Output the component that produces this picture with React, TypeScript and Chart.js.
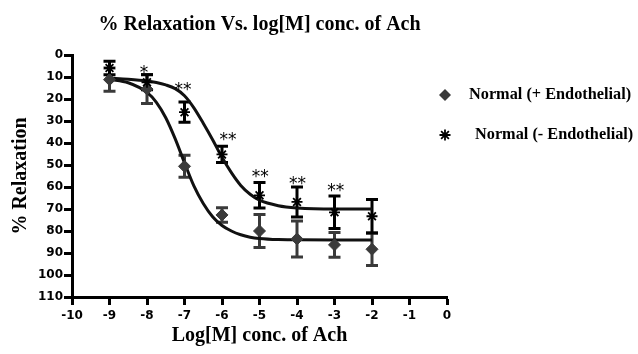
import React, { useEffect, useRef } from "react";
import { Chart, registerables } from "chart.js";

Chart.register(...registerables);

// ---- data ----
const doseLog = [-9, -8, -7, -6, -5, -4, -3, -2];
const plusMean = [11.2, 15.5, 50.6, 72.7, 80.0, 83.6, 86.3, 88.3];
const plusErr = [5.3, 6.6, 5.0, 3.3, 7.5, 8.2, 5.6, 7.4];
const minusMean = [5.9, 12.4, 26.0, 45.2, 63.8, 66.8, 71.5, 73.3];
const minusErr = [3.1, 3.4, 4.6, 3.7, 5.8, 6.8, 7.4, 7.6];

const fitX = [-9, -8.5, -8, -7.75, -7.5, -7.25, -7, -6.75, -6.5, -6.25, -6, -5.75, -5.5, -5.25, -5, -4.5, -4, -3, -2];
const plusFit = [11.0, 12.6, 17.0, 21.5, 28.5, 38.0, 49.0, 59.5, 67.5, 73.5, 77.5, 80.0, 81.7, 82.8, 83.4, 83.9, 84.0, 84.1, 84.1];
const minusFit = [10.5, 11.0, 11.8, 12.5, 13.6, 15.3, 18.5, 24.0, 31.0, 38.5, 46.5, 53.5, 59.3, 63.3, 66.0, 68.5, 69.5, 70.0, 70.0];

const sigLabels = ["*", "**", "**", "**", "**", "**"];
const sigX = [-8.08, -7.04, -5.84, -4.98, -3.99, -2.97];
const sigY = [5.9, 13.9, 36.7, 53.5, 56.7, 59.7];

const seriesNames = ["Normal (+ Endothelial)", "Normal (- Endothelial)"];
const titleText = "% Relaxation Vs. log[M] conc. of Ach";
const xTitle = "Log[M] conc. of Ach";
const yTitle = "% Relaxation";

const GRAY = "#3a3a3a";
const BLACK = "#000000";
const SERIF = "'Liberation Serif', 'Times New Roman', serif";
const SANS = "'DejaVu Sans', sans-serif";

const extrasPlugin = {
  id: "extras",
  beforeDatasetsDraw(chart: any) {
    const { ctx, scales } = chart;
    const xs = scales.x;
    const ys = scales.y;
    const drawBars = (means: number[], errs: number[], color: string) => {
      ctx.save();
      ctx.strokeStyle = color;
      ctx.lineWidth = 3;
      ctx.lineCap = "butt";
      for (let i = 0; i < doseLog.length; i++) {
        const px = xs.getPixelForValue(doseLog[i]);
        const top = ys.getPixelForValue(means[i] - errs[i]);
        const bot = ys.getPixelForValue(means[i] + errs[i]);
        ctx.beginPath();
        ctx.moveTo(px, top);
        ctx.lineTo(px, bot);
        ctx.moveTo(px - 6, top);
        ctx.lineTo(px + 6, top);
        ctx.moveTo(px - 6, bot);
        ctx.lineTo(px + 6, bot);
        ctx.stroke();
      }
      ctx.restore();
    };
    drawBars(plusMean, plusErr, GRAY);
    drawBars(minusMean, minusErr, BLACK);
  },
  afterDraw(chart: any) {
    const { ctx, scales } = chart;
    const xs = scales.x;
    const ys = scales.y;
    ctx.save();
    // significance marks
    const starSize = 17;
    ctx.font = `${starSize}px ${SANS}`;
    ctx.fillStyle = BLACK;
    ctx.textAlign = "center";
    ctx.textBaseline = "alphabetic";
    for (let i = 0; i < sigLabels.length; i++) {
      const px = xs.getPixelForValue(sigX[i]);
      const py = ys.getPixelForValue(sigY[i]);
      ctx.fillText(sigLabels[i], px, py + 0.56 * starSize);
    }
    // legend
    ctx.font = `bold 16.3px ${SERIF}`;
    ctx.textAlign = "left";
    ctx.textBaseline = "middle";
    const lx = 445;
    const ly = [95, 135];
    const tx = [469, 475];
    // diamond
    ctx.fillStyle = GRAY;
    ctx.beginPath();
    ctx.moveTo(lx, ly[0] - 6);
    ctx.lineTo(lx + 6, ly[0]);
    ctx.lineTo(lx, ly[0] + 6);
    ctx.lineTo(lx - 6, ly[0]);
    ctx.closePath();
    ctx.fill();
    // asterisk
    ctx.strokeStyle = BLACK;
    ctx.lineWidth = 1.8;
    ctx.beginPath();
    const r = 5.5;
    for (let k = 0; k < 4; k++) {
      const a = (k * Math.PI) / 4;
      ctx.moveTo(lx - r * Math.cos(a), ly[1] - r * Math.sin(a));
      ctx.lineTo(lx + r * Math.cos(a), ly[1] + r * Math.sin(a));
    }
    ctx.stroke();
    ctx.fillStyle = BLACK;
    ctx.fillText(seriesNames[0], tx[0], ly[0]);
    ctx.fillText(seriesNames[1], tx[1], ly[1]);
    ctx.restore();
  },
};

export default function App() {
  const ref = useRef<HTMLCanvasElement | null>(null);

  useEffect(() => {
    if (!ref.current) return;
    const tickFont = { family: SANS, size: 12, weight: "bold" as const };
    const axisTitleFont = { family: SERIF, size: 20, weight: "bold" as const };
    const chart = new Chart(ref.current, {
      type: "scatter",
      data: {
        datasets: [
          {
            label: seriesNames[0],
            data: doseLog.map((x, i) => ({ x, y: plusMean[i] })),
            pointStyle: "rectRot",
            pointRadius: 6,
            backgroundColor: GRAY,
            borderColor: GRAY,
            borderWidth: 1,
            showLine: false,
            order: 1,
          },
          {
            label: seriesNames[1],
            data: doseLog.map((x, i) => ({ x, y: minusMean[i] })),
            pointStyle: "star",
            pointRadius: 5.5,
            borderColor: BLACK,
            backgroundColor: BLACK,
            borderWidth: 1.8,
            showLine: false,
            order: 0,
          },
          {
            label: "fit +",
            data: fitX.map((x, i) => ({ x, y: plusFit[i] })),
            showLine: true,
            pointRadius: 0,
            borderColor: "#111",
            borderWidth: 3,
            cubicInterpolationMode: "monotone",
            order: 2,
          },
          {
            label: "fit -",
            data: fitX.map((x, i) => ({ x, y: minusFit[i] })),
            showLine: true,
            pointRadius: 0,
            borderColor: "#111",
            borderWidth: 3,
            cubicInterpolationMode: "monotone",
            order: 2,
          },
        ],
      },
      options: {
        animation: false,
        responsive: false,
        devicePixelRatio: 1,
        layout: { padding: { top: 0, left: 0, right: 191, bottom: 0 } },
        plugins: {
          legend: { display: false },
          tooltip: { enabled: false },
          title: {
            display: true,
            text: titleText,
            fullSize: false,
            color: BLACK,
            font: { family: SERIF, size: 20, weight: "bold" },
            padding: { top: 12.6, bottom: 18.4 },
          },
        },
        scales: {
          x: {
            type: "linear",
            min: -10,
            max: 0,
            afterFit(scale: any) {
              scale.height = 57;
            },
            ticks: { stepSize: 1, color: BLACK, font: tickFont, padding: 4, autoSkip: false, maxRotation: 0 },
            grid: { drawOnChartArea: false, drawTicks: true, tickLength: 8, tickWidth: 3, tickColor: BLACK },
            border: { display: true, width: 3, color: BLACK },
            title: { display: true, text: xTitle, color: BLACK, font: axisTitleFont, padding: { top: 0, bottom: 6 } },
          },
          y: {
            type: "linear",
            min: 0,
            max: 110,
            reverse: true,
            afterFit(scale: any) {
              scale.width = 72;
            },
            ticks: { stepSize: 10, color: BLACK, font: tickFont, padding: 1, autoSkip: false },
            grid: { drawOnChartArea: false, drawTicks: true, tickLength: 8, tickWidth: 3, tickColor: BLACK },
            border: { display: true, width: 3, color: BLACK },
            title: { display: true, text: yTitle, color: BLACK, font: axisTitleFont, padding: { top: 9, bottom: 0 } },
          },
        },
      } as any,
      plugins: [extrasPlugin],
    });
    return () => chart.destroy();
  }, []);

  return (
    <div style={{ position: "fixed", left: 0, top: 0, width: 638, height: 354, background: "#fff" }}>
      <canvas ref={ref} width={638} height={354} style={{ display: "block", width: 638, height: 354 }} />
    </div>
  );
}
